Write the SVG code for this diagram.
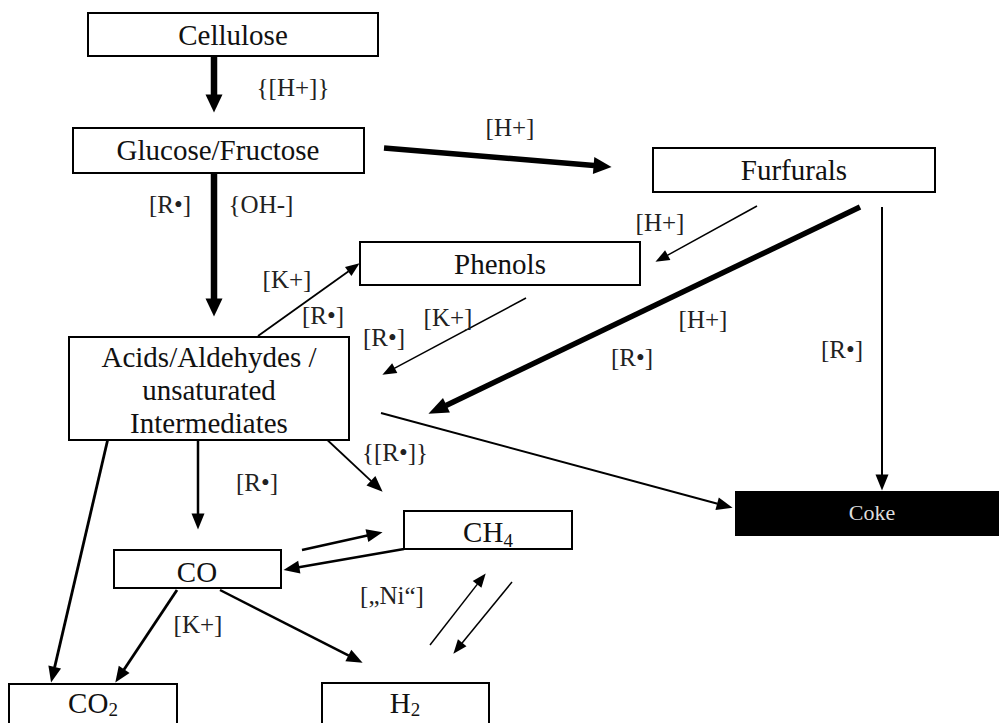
<svg xmlns="http://www.w3.org/2000/svg" width="999" height="723" viewBox="0 0 999 723">
<style>
.box{fill:#fff;stroke:#000;stroke-width:2}
.nt{font-family:"Liberation Serif","Times New Roman",serif;font-size:29px;fill:#111;text-anchor:middle}
.lb{font-family:"Liberation Serif","Times New Roman",serif;font-size:25px;fill:#222;text-anchor:middle}
.sub{font-size:19px}
.c{stroke:#000;fill:none}
</style>
<defs>
<marker id="big" markerUnits="userSpaceOnUse" markerWidth="18" markerHeight="17" refX="0.5" refY="8.5" orient="auto" overflow="visible"><path d="M0,0 L18,8.5 L0,17 Z" fill="#000"/></marker>
<marker id="diag" markerUnits="userSpaceOnUse" markerWidth="20" markerHeight="16" refX="0.5" refY="8" orient="auto" overflow="visible"><path d="M0,0 L20,8 L0,16 Z" fill="#000"/></marker>
<marker id="med" markerUnits="userSpaceOnUse" markerWidth="16" markerHeight="13" refX="0.5" refY="6.5" orient="auto" overflow="visible"><path d="M0,0 L16,6.5 L0,13 Z" fill="#000"/></marker>
<marker id="sm" markerUnits="userSpaceOnUse" markerWidth="14" markerHeight="11" refX="0.5" refY="5.5" orient="auto" overflow="visible"><path d="M0,0 L14,5.5 L0,11 Z" fill="#000"/></marker>
</defs>
<rect width="999" height="723" fill="#fff"/>

<g id="connectors">
<line class="c" x1="214" y1="57" x2="214" y2="95" stroke-width="6.5" marker-end="url(#big)"/>
<line class="c" x1="384" y1="148" x2="594.1" y2="165.5" stroke-width="5.5" marker-end="url(#big)"/>
<line class="c" x1="214" y1="173" x2="214" y2="299" stroke-width="6.5" marker-end="url(#big)"/>
<line class="c" x1="757" y1="206" x2="667.3" y2="255.3" stroke-width="1.5" marker-end="url(#sm)"/>
<line class="c" x1="860" y1="207" x2="446" y2="405.4" stroke-width="5.5" marker-end="url(#diag)"/>
<line class="c" x1="882" y1="207" x2="882" y2="475" stroke-width="2" marker-end="url(#med)"/>
<line class="c" x1="258" y1="336" x2="348.6" y2="271.2" stroke-width="1.8" marker-end="url(#sm)"/>
<line class="c" x1="526" y1="298" x2="394.3" y2="368.4" stroke-width="1.5" marker-end="url(#sm)"/>
<line class="c" x1="381" y1="413" x2="717.6" y2="503.8" stroke-width="2" marker-end="url(#med)"/>
<line class="c" x1="113" y1="417" x2="54.6" y2="667.4" stroke-width="2.8" marker-end="url(#med)"/>
<line class="c" x1="198" y1="440" x2="198" y2="514" stroke-width="2.5" marker-end="url(#med)"/>
<line class="c" x1="322" y1="435" x2="371.3" y2="481.1" stroke-width="1.8" marker-end="url(#med)"/>
<line class="c" x1="302" y1="550" x2="367.4" y2="535.5" stroke-width="2.5" marker-end="url(#med)"/>
<line class="c" x1="404" y1="549" x2="298.8" y2="567.3" stroke-width="2.5" marker-end="url(#med)"/>
<line class="c" x1="177" y1="590" x2="123.9" y2="669.7" stroke-width="2.8" marker-end="url(#med)"/>
<line class="c" x1="220" y1="590" x2="348.8" y2="655.7" stroke-width="2.5" marker-end="url(#med)"/>
<line class="c" x1="430" y1="645" x2="477.4" y2="584.1" stroke-width="1.5" marker-end="url(#sm)"/>
<line class="c" x1="512" y1="582" x2="461.9" y2="643.2" stroke-width="1.5" marker-end="url(#sm)"/>
</g>

<g id="labels">
<text class="lb" x="293" y="96">{[H+]}</text>
<text class="lb" x="510" y="136">[H+]</text>
<text class="lb" x="170" y="213">[R•]</text>
<text class="lb" x="261" y="213">{OH-]</text>
<text class="lb" x="287" y="288">[K+]</text>
<text class="lb" x="323" y="324">[R•]</text>
<text class="lb" x="660" y="231">[H+]</text>
<text class="lb" x="448" y="326">[K+]</text>
<text class="lb" x="384" y="346">[R•]</text>
<text class="lb" x="703" y="328">[H+]</text>
<text class="lb" x="632" y="366">[R•]</text>
<text class="lb" x="842" y="358">[R•]</text>
<text class="lb" x="257" y="491">[R•]</text>
<text class="lb" x="395" y="461">{[R•]}</text>
<text class="lb" x="198" y="633">[K+]</text>
<text class="lb" x="392" y="604">[„Ni“]</text>
</g>

<g id="cellulose"><rect class="box" x="88" y="13" width="290" height="43"/><text class="nt" x="233" y="45">Cellulose</text></g>
<g id="glucose"><rect class="box" x="73" y="128" width="291" height="45"/><text class="nt" x="218" y="160">Glucose/Fructose</text></g>
<g id="furfurals"><rect class="box" x="653" y="148" width="282" height="44"/><text class="nt" x="794" y="180">Furfurals</text></g>
<g id="phenols"><rect class="box" x="360" y="242" width="280" height="43"/><text class="nt" x="500" y="274">Phenols</text></g>
<g id="acids"><rect class="box" x="69" y="337" width="280" height="103"/>
<text class="nt" x="209" y="367">Acids/Aldehydes /</text>
<text class="nt" x="209" y="400">unsaturated</text>
<text class="nt" x="209" y="433">Intermediates</text></g>
<g id="coke"><rect x="736" y="492" width="263" height="43" fill="#000" stroke="#000" stroke-width="2"/><text x="872" y="520" font-family="Liberation Serif,serif" font-size="22" fill="#ddd" text-anchor="middle">Coke</text></g>
<g id="co"><rect class="box" x="114" y="550" width="167" height="38"/><text class="nt" x="197" y="582">CO</text></g>
<g id="ch4"><rect class="box" x="404" y="511" width="168" height="38"/><text class="nt" x="488" y="542">CH<tspan class="sub" dy="5">4</tspan></text></g>
<g id="co2"><rect class="box" x="9" y="684" width="168" height="45"/><text class="nt" x="93" y="713">CO<tspan class="sub" dy="3">2</tspan></text></g>
<g id="h2"><rect class="box" x="322" y="683" width="167" height="46"/><text class="nt" x="405" y="713">H<tspan class="sub" dy="3">2</tspan></text></g>
</svg>
